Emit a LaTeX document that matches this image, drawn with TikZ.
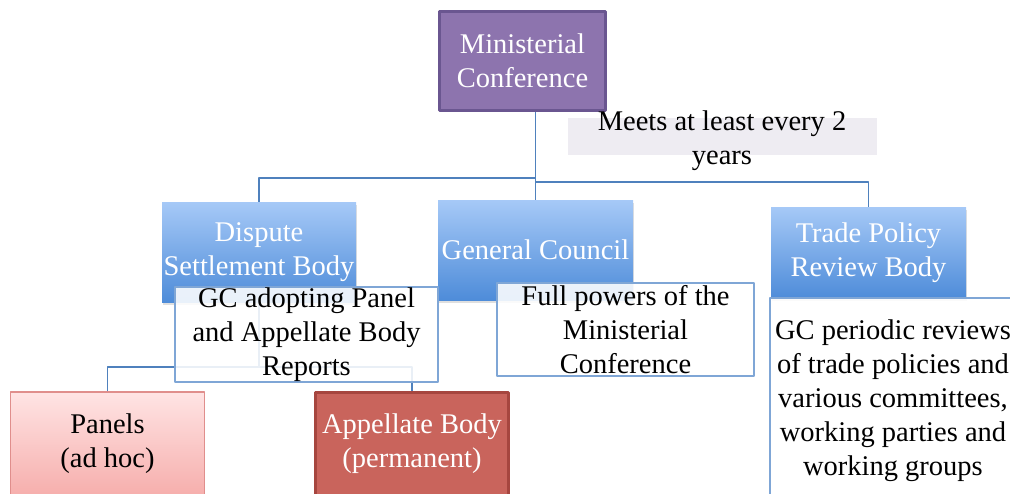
\documentclass[tikz,border=0pt]{standalone}
\usepackage{fontspec}
\setmainfont{Liberation Serif}
\usetikzlibrary{shadows}
\definecolor{mcfill}{HTML}{8D74AE}
\definecolor{mcline}{HTML}{6A5690}
\definecolor{meetsfill}{HTML}{EEECF2}
\definecolor{bluetop}{HTML}{A6C9F7}
\definecolor{bluebot}{HTML}{4E8CD9}
\definecolor{connline}{HTML}{4F81BD}
\definecolor{noteline}{HTML}{7FA6D6}
\definecolor{pinktop}{HTML}{FFE4E4}
\definecolor{pinkbot}{HTML}{F6AEAC}
\definecolor{pinkline}{HTML}{E08E8C}
\definecolor{abfill}{HTML}{C9645C}
\definecolor{abline}{HTML}{A6463F}
\begin{document}
\begin{tikzpicture}[x=1pt, y=-1pt, line join=round,
  every node/.style={font=\fontsize{28.5}{34}\selectfont, inner sep=0pt, align=center},
  bluebox/.style={minimum width=195pt, minimum height=100pt, top color=bluetop, bottom color=bluebot, text=white,
    drop shadow={opacity=.25, shadow xshift=1pt, shadow yshift=-3pt}},
  notebox/.style={draw=noteline, line width=1.5pt, fill=white, fill opacity=.88, text opacity=1},
  conn/.style={draw=connline, line width=1.5pt}]
%Khung hình
\useasboundingbox (0,0) rectangle (1010,493);
\clip (0,0) rectangle (1010,493);
%Các khối chính
\node[fill=mcfill, draw=mcline, line width=3pt, text=white, minimum width=166pt, minimum height=99pt] (mc) at (522.5,61) {Ministerial\\Conference};
\node[fill=meetsfill, minimum width=309pt, minimum height=37pt] (meetsbg) at (722.5,136.5) {};
\node (meets) at (722,141) {Meets at least every 2\\years};
\node[bluebox, minimum width=194pt] (dsb) at (259,252) {Dispute\\Settlement Body};
\node[bluebox] (gc) at (535.5,250) {General Council};
\node[bluebox, minimum height=91pt] (tprb) at (868.5,252.5) {Trade Policy\\Review Body};
\node[top color=pinktop, bottom color=pinkbot, draw=pinkline, line width=1.5pt, minimum width=194pt, minimum height=104pt] (panels) at (107.5,444) {Panels\\(ad hoc)};
\node[fill=abfill, draw=abline, line width=3pt, text=white, minimum width=193pt, minimum height=104pt] (ab) at (412,444) {Appellate Body\\(permanent)};
%Đường nối
\coordinate (busL) at (536,178);
\coordinate (busR) at (536,182);
\coordinate (bus2) at (259,367);
\draw[conn] (gc.north) -- (gc.north |- mc.south);
\draw[conn] (dsb.north) |- (busL);
\draw[conn] (tprb.north) |- (busR);
\draw[conn] (dsb.south) -- (bus2);
\draw[conn] (panels.north) |- (bus2) -| (ab.north);
%Ghi chú
\node[notebox, minimum width=263pt, minimum height=95pt] (dsbnote) at (306.5,334.5) {GC adopting Panel\\and Appellate Body\\Reports};
\node[notebox, minimum width=257pt, minimum height=93pt] (gcnote) at (625.5,329.5) {Full powers of the\\Ministerial\\Conference};
\node[notebox, minimum width=246pt, minimum height=205pt] (tprbnote) at (893,400.5) {GC periodic reviews\\of trade policies and\\various committees,\\working parties and\\working groups};
\end{tikzpicture}
\end{document}
